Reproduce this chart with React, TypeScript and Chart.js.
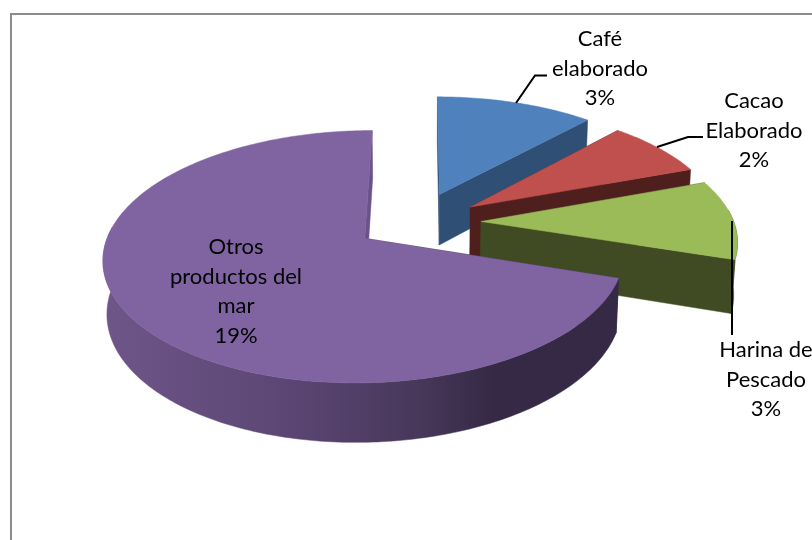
import React, { useEffect, useRef } from "react";
import { Chart, registerables } from "chart.js";

Chart.register(...registerables);

// Data
const categories = ["Café elaborado", "Cacao Elaborado", "Harina de Pescado", "Otros productos del mar"];
const values = [3.2, 2.07, 2.87, 19.0];
const labelLines = [
  ["Café", "elaborado"],
  ["Cacao", "Elaborado"],
  ["Harina de", "Pescado"],
  ["Otros", "productos del", "mar"],
];

// Styles
const topColors = ["#4F81BD", "#C0504D", "#9BBB59", "#8064A2"];
const wallColors = ["#2F4F75", "#4F1F1E", "#404B23", "#352946"];
const purpleWallStops: [number, string][] = [
  [0, "#6E5689"],
  [0.38, "#5A4572"],
  [0.62, "#473759"],
  [0.76, "#352946"],
  [1, "#352946"],
];
const labelAnchors = [
  { x: 600, y: 46 },
  { x: 754, y: 108 },
  { x: 766, y: 357 },
  { x: 236, y: 254 },
];
const leaders = [
  [[516, 103], [535, 75.5], [547, 75.5]],
  [[657, 147], [688, 137], [703, 137]],
  [[732, 221], [732, 335]],
];
// Small per-slice shift of the exploded slices, in unit-radius terms
const sliceNudge = [
  [-0.016, -0.025],
  [0, 0],
  [0, 0],
  [-0.04, 0],
];

// Camera used to project the library's arc angles into the 3D view
const view = { cx: 423, cy: 222, a: 252.7, b: 118.8, k: 0.1425, m: 0.012, d: 52.5, explode: 0.23 };
const project = (X: number, Y: number, Z: number) => {
  const w = 1 - view.k * Y + view.m * Z;
  return [view.cx + (view.a * X) / w, view.cy + (view.b * Y + view.d * Z) / w];
};

const pie3d = {
  id: "pie3d",
  beforeDraw(chart: any) {
    const { ctx } = chart;
    ctx.save();
    ctx.strokeStyle = "#8C8C8C";
    ctx.lineWidth = 2;
    ctx.beginPath();
    ctx.moveTo(11, 540);
    ctx.lineTo(11, 14);
    ctx.lineTo(812, 14);
    ctx.stroke();
    ctx.restore();
  },
  beforeDatasetDraw(chart: any, args: any) {
    const { ctx } = chart;
    const arcs = args.meta.data;
    arcs.forEach((arc: any, i: number) => {
      const { startAngle, endAngle } = arc.getProps(["startAngle", "endAngle"], true);
      const mid = (startAngle + endAngle) / 2;
      const ox = Math.cos(mid) * view.explode + sliceNudge[i][0];
      const oy = Math.sin(mid) * view.explode + sliceNudge[i][1];
      const steps = Math.max(8, Math.ceil(((endAngle - startAngle) * 180) / Math.PI));
      const angles: number[] = [];
      for (let s = 0; s <= steps; s++) angles.push(startAngle + ((endAngle - startAngle) * s) / steps);
      const rim = angles.map((t) => [ox + Math.cos(t), oy + Math.sin(t)]);
      const fillPoly = (pts: number[][], color: any) => {
        ctx.beginPath();
        pts.forEach((p, n) => (n ? ctx.lineTo(p[0], p[1]) : ctx.moveTo(p[0], p[1])));
        ctx.closePath();
        ctx.fillStyle = color;
        ctx.strokeStyle = color;
        ctx.lineWidth = 0.5;
        ctx.fill();
        ctx.stroke();
      };

      let wall: any = wallColors[i];
      let sideWall: any = wallColors[i];
      if (i === 3) {
        const g = ctx.createLinearGradient(103, 0, 617, 0);
        purpleWallStops.forEach(([p, c]) => g.addColorStop(p, c));
        wall = g;
        sideWall = "#6B5288";
      }
      const apexTop = project(ox, oy, 0);
      const apexBottom = project(ox, oy, 1);
      const first = rim[0];
      const last = rim[rim.length - 1];

      // radial cut faces
      fillPoly([apexTop, project(first[0], first[1], 0), project(first[0], first[1], 1), apexBottom], i === 3 ? wallColors[3] : sideWall);
      fillPoly([apexTop, project(last[0], last[1], 0), project(last[0], last[1], 1), apexBottom], sideWall);
      // outer rim: only the part that faces the viewer
      const front = rim.filter((_, s) => Math.sin(angles[s]) >= -0.1);
      if (front.length > 1) {
        fillPoly(
          [
            ...front.map((p) => project(p[0], p[1], 0)),
            ...front.slice().reverse().map((p) => project(p[0], p[1], 1)),
          ],
          wall
        );
      }
      // top face
      fillPoly([apexTop, ...rim.map((p) => project(p[0], p[1], 0))], arc.options.backgroundColor);
    });
    return false;
  },
  afterDraw(chart: any) {
    const { ctx } = chart;
    ctx.save();
    ctx.fillStyle = "#000";
    ctx.font = '22px Lato, "Open Sans", sans-serif';
    ctx.textAlign = "center";
    ctx.textBaseline = "alphabetic";
    values.forEach((v, i) => {
      const lines = [...labelLines[i], `${Math.round(v)}%`];
      lines.forEach((line, n) => ctx.fillText(line, labelAnchors[i].x, labelAnchors[i].y + n * 29.5));
    });
    ctx.strokeStyle = "#000";
    ctx.lineWidth = 2;
    leaders.forEach((pts) => {
      ctx.beginPath();
      pts.forEach((p, n) => (n ? ctx.lineTo(p[0], p[1]) : ctx.moveTo(p[0], p[1])));
      ctx.stroke();
    });
    ctx.restore();
  },
};

export default function App() {
  const ref = useRef<HTMLCanvasElement>(null);
  useEffect(() => {
    const chart = new Chart(ref.current!, {
      type: "pie",
      data: {
        labels: categories,
        datasets: [{ data: values, backgroundColor: topColors, borderWidth: 0 }],
      },
      options: {
        responsive: false,
        animation: false,
        devicePixelRatio: 1,
        plugins: { legend: { display: false }, tooltip: { enabled: false } },
      },
      plugins: [pie3d],
    } as any);
    return () => chart.destroy();
  }, []);
  return (
    <div style={{ position: "absolute", left: 0, top: 0, width: 812, height: 540, background: "#fff", overflow: "hidden" }}>
      <canvas ref={ref} width={812} height={540} style={{ display: "block", width: 812, height: 540 }} />
    </div>
  );
}
